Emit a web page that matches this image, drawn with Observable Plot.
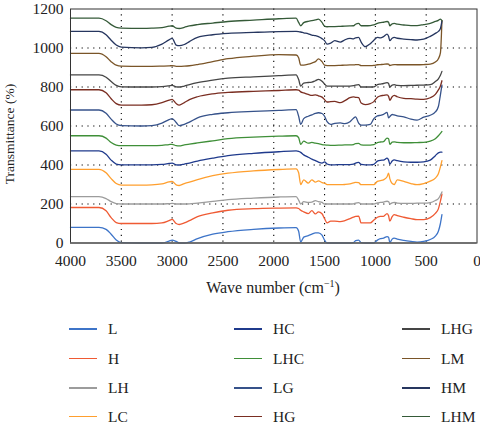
<!DOCTYPE html>
<html>
<head>
<meta charset="utf-8">
<script src="https://cdn.jsdelivr.net/npm/d3@7"></script>
<script src="https://cdn.jsdelivr.net/npm/@observablehq/plot@0.6"></script>
<style>
  body { margin: 0; background: #fff; }
  #wrap { position: relative; width: 480px; height: 425px; overflow: hidden; font-family: "Liberation Serif", "Times New Roman", serif; color: #222; }
  #chart { position: absolute; left: 0; top: 0; }
  .xlabel { position: absolute; top: 279px; left: 173px; width: 200px; text-align: center; font-size: 16px; white-space: nowrap; }
  .xlabel sup { font-size: 10px; vertical-align: 6px; line-height: 0; }
  .ylabel { position: absolute; left: 10px; top: 134px; transform: translate(-50%, -50%) rotate(-90deg); font-size: 13.5px; white-space: nowrap; }
  .leg { position: absolute; font-size: 15.5px; line-height: 15px; white-space: nowrap; }
  .leg i { position: absolute; left: 0; top: 7px; width: 28px; height: 1.6px; }
  .leg span { position: absolute; left: 39px; top: 0; }
</style>
</head>
<body>
<div id="wrap">
  <div id="chart"></div>
  <div class="xlabel">Wave number (cm<sup>−1</sup>)</div>
  <div class="ylabel">Transmittance (%)</div>
</div>
<script>
const seriesNames = ["L", "H", "LH", "LC", "HC", "LHC", "LG", "HG", "LHG", "LM", "HM", "LHM"];
const seriesColors = ["#3d74c8", "#ef5a33", "#9c9c9c", "#ff9f2e", "#1f3a8c", "#3f8f38", "#36528a", "#7a2e22", "#454545", "#7a5528", "#26365f", "#355a38"];

const waveNumbers = [4000, 3720, 3650, 3600, 3550, 3500, 3300, 3200, 3100, 3030, 3000, 2960, 2930, 2880, 2830, 2750, 2600, 2450, 2200, 1950,
  1780, 1755, 1735, 1705, 1660, 1625, 1590, 1560, 1525, 1500, 1475, 1440, 1400, 1345, 1300, 1250, 1215, 1195, 1165, 1140,
  1100, 1050, 1015, 980, 950, 920, 885, 870, 858, 835, 815, 785, 720, 650, 590, 525, 460, 410, 380, 360, 345];

const L = [80, 80, 70, 45, 15, 2, 0, 0, 0, 10, 15, 8, 0, 0, 5, 22, 45, 58, 70, 77,
  79, 60, 5, 30, 38, 45, 52, 52, 40, 15, 0, 0, 0, 0, 0, 0, 2, 12, 15, 2,
  0, 0, 0, 15, 22, 25, 33, 30, 2, 20, 25, 20, 13, 8, 5, 8, 18, 35, 60, 100, 145];
const H = [182, 182, 165, 130, 105, 100, 100, 100, 103, 115, 121, 100, 95, 103, 115, 135, 154, 168, 176, 179,
  180, 177, 168, 160, 151, 166, 149, 160, 150, 125, 103, 112, 112, 110, 115, 125, 133, 137, 138, 103,
  103, 103, 118, 132, 137, 137, 151, 140, 112, 135, 146, 140, 132, 125, 120, 120, 130, 152, 175, 215, 250];
const LH = [238, 238, 228, 212, 202, 200, 200, 200, 200, 202, 203, 200, 200, 200, 201, 205, 213, 222, 230, 236,
  238, 220, 200, 212, 208, 210, 217, 212, 208, 200, 200, 200, 200, 200, 200, 200, 201, 205, 207, 200,
  200, 200, 200, 206, 208, 210, 214, 212, 200, 206, 208, 205, 203, 203, 204, 204, 207, 218, 228, 245, 262];
const LC = [378, 378, 360, 330, 305, 297, 297, 298, 303, 313, 316, 298, 295, 305, 312, 325, 345, 358, 370, 377,
  380, 360, 300, 324, 307, 324, 312, 319, 310, 307, 299, 299, 299, 299, 300, 303, 308, 311, 309, 299,
  299, 299, 299, 316, 320, 324, 340, 358, 330, 305, 300, 324, 316, 305, 299, 305, 317, 333, 355, 390, 422];
const HC = [472, 472, 455, 425, 405, 401, 401, 401, 403, 408, 410, 401, 400, 405, 410, 420, 435, 448, 460, 468,
  472, 470, 465, 452, 440, 430, 422, 415, 410, 416, 405, 401, 401, 402, 402, 402, 404, 410, 413, 403,
  401, 401, 403, 420, 424, 425, 435, 425, 405, 420, 426, 422, 416, 414, 414, 416, 425, 448, 462, 466, 466];
const LHC = [550, 550, 538, 515, 502, 499, 499, 499, 501, 505, 506, 499, 498, 503, 507, 513, 524, 535, 543, 548,
  550, 540, 506, 522, 512, 516, 512, 510, 505, 503, 502, 501, 501, 502, 503, 503, 505, 510, 511, 503,
  502, 502, 504, 515, 518, 520, 538, 535, 506, 517, 519, 516, 514, 514, 515, 516, 522, 535, 550, 562, 572];
const LG = [682, 682, 665, 635, 610, 602, 600, 602, 615, 633, 638, 618, 602, 608, 620, 642, 660, 668, 675, 680,
  684, 650, 608, 638, 650, 657, 665, 668, 664, 650, 622, 608, 614, 616, 612, 622, 640, 647, 615, 605,
  605, 608, 638, 652, 655, 660, 670, 642, 648, 659, 657, 652, 647, 635, 630, 645, 655, 672, 700, 760, 810];
const HG = [786, 786, 770, 740, 715, 707, 707, 709, 720, 733, 737, 715, 707, 720, 735, 750, 765, 772, 778, 782,
  786, 784, 775, 770, 762, 757, 760, 755, 748, 735, 723, 725, 726, 720, 730, 745, 749, 747, 745, 718,
  710, 715, 725, 748, 755, 757, 760, 752, 732, 750, 757, 750, 742, 740, 738, 737, 745, 762, 785, 805, 832];
const LHG = [862, 862, 850, 828, 808, 801, 800, 800, 802, 806, 808, 801, 800, 805, 812, 822, 835, 845, 852, 858,
  862, 838, 805, 820, 823, 825, 832, 839, 830, 815, 805, 805, 805, 805, 805, 805, 807, 810, 812, 800,
  800, 800, 801, 812, 815, 818, 822, 818, 800, 810, 812, 808, 807, 808, 809, 810, 812, 828, 842, 860, 880];
const LM = [972, 972, 955, 930, 912, 907, 906, 906, 907, 908, 910, 906, 906, 907, 909, 915, 930, 945, 958, 966,
  964, 950, 912, 912, 917, 923, 930, 944, 930, 912, 910, 910, 910, 911, 912, 913, 913, 915, 915, 910,
  910, 910, 911, 914, 915, 916, 918, 917, 910, 914, 915, 914, 914, 914, 914, 915, 917, 928, 945, 975, 1140];
const HM = [1085, 1085, 1068, 1040, 1015, 1005, 1001, 1003, 1020, 1042, 1049, 1015, 1012, 1018, 1033, 1055, 1068, 1075, 1080, 1084,
  1085, 1084, 1082, 1078, 1073, 1066, 1063, 1058, 1048, 1038, 1020, 1025, 1038, 1030, 1042, 1049, 1047, 1052, 1054, 1030,
  1007, 1022, 1040, 1054, 1052, 1058, 1071, 1060, 1038, 1050, 1054, 1050, 1046, 1043, 1041, 1045, 1060, 1075, 1085, 1100, 1138];
const LHM = [1153, 1153, 1140, 1120, 1106, 1102, 1101, 1102, 1105, 1112, 1114, 1102, 1100, 1106, 1113, 1120, 1128, 1136, 1143, 1150,
  1153, 1131, 1114, 1130, 1137, 1140, 1144, 1148, 1131, 1112, 1109, 1110, 1110, 1111, 1112, 1113, 1114, 1122, 1126, 1114,
  1114, 1115, 1118, 1126, 1130, 1132, 1136, 1132, 1114, 1124, 1126, 1122, 1118, 1115, 1115, 1120, 1126, 1136, 1142, 1148, 1140];

const xTicks = [4000, 3500, 3000, 2500, 2000, 1500, 1000, 500, 0];
const yTicks = [0, 200, 400, 600, 800, 1000, 1200];

const seriesValues = [L, H, LH, LC, HC, LHC, LG, HG, LHG, LM, HM, LHM];
const rows = [];
seriesNames.forEach((name, si) => {
  waveNumbers.forEach((wn, i) => rows.push({series: name, wn, v: seriesValues[si][i]}));
});

const plot = Plot.plot({
  width: 480,
  height: 271,
  marginTop: 8.5,
  marginBottom: 28.5,
  marginLeft: 70,
  marginRight: 3.5,
  style: {fontFamily: "'Liberation Serif', 'Times New Roman', serif", fontSize: "15.5px", color: "#222", background: "transparent", overflow: "visible"},
  x: {domain: [4000, 0], ticks: xTicks, label: null},
  y: {domain: [0, 1200], ticks: yTicks, label: null},
  color: {domain: seriesNames, range: seriesColors},
  marks: [
    Plot.gridX(xTicks.slice(1, -1), {stroke: "#000", strokeOpacity: 1, strokeWidth: 1.1, strokeDasharray: "1.2,4.6"}),
    Plot.gridY(yTicks.slice(1, -1), {stroke: "#000", strokeOpacity: 1, strokeWidth: 1.1, strokeDasharray: "1.2,4.6"}),
    Plot.axisX(xTicks, {tickSize: 0, tickPadding: 12, fill: "#222", tickFormat: d => String(d)}),
    Plot.axisY(yTicks, {tickSize: 0, tickPadding: 7, fill: "#222", tickFormat: d => String(d)}),
    Plot.line(rows, {x: "wn", y: "v", z: "series", stroke: "series", strokeWidth: 1.3, curve: "monotone-x"}),
    Plot.frame({stroke: "#333", strokeWidth: 1}),
    Plot.ruleY([0], {stroke: "#666", strokeWidth: 1.6})
  ]
});
document.getElementById("chart").appendChild(plot);

// legend (3 columns x 4 rows, column-major like the reference)
const wrap = document.getElementById("wrap");
const colLeft = [69, 234, 402];
const rowTop = [321, 350.5, 380, 408.5];
seriesNames.forEach((name, i) => {
  const col = Math.floor(i / 4), row = i % 4;
  const d = document.createElement("div");
  d.className = "leg";
  d.style.left = colLeft[col] + "px";
  d.style.top = rowTop[row] + "px";
  d.innerHTML = `<i style="background:${seriesColors[i]}"></i><span>${name}</span>`;
  wrap.appendChild(d);
});
</script>
</body>
</html>
